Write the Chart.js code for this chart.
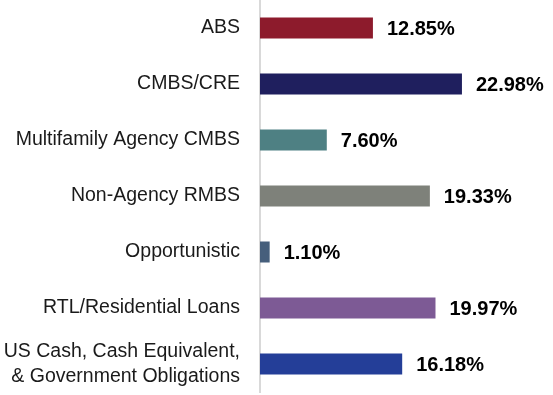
<!DOCTYPE html>
<html lang="en">
<head>
    <meta charset="UTF-8">
    <title>Allocation</title>
    <script src="https://cdn.jsdelivr.net/npm/chart.js"></script>
    <style>
        html, body { margin: 0; padding: 0; background: #ffffff; }
        #wrap { width: 553px; height: 395px; }
    </style>
</head>
<body>
    <div id="wrap"><canvas id="allocChart" width="553" height="395"></canvas></div>

    <script>
        const categories = [
            'ABS',
            'CMBS/CRE',
            'Multifamily Agency CMBS',
            'Non-Agency RMBS',
            'Opportunistic',
            'RTL/Residential Loans',
            ['US Cash, Cash Equivalent,', '& Government Obligations']
        ];
        const allocations = [12.85, 22.98, 7.60, 19.33, 1.10, 19.97, 16.18];
        const barColors = ['#8d1b2c', '#1f1f5e', '#4e8083', '#7e817a', '#465f7c', '#7d5a95', '#243e98'];

        // draws the bold % text just right of each bar
        const valueLabels = {
            id: 'valueLabels',
            afterDatasetsDraw(chart) {
                const ctx = chart.ctx;
                const meta = chart.getDatasetMeta(0);
                ctx.save();
                ctx.font = 'bold 20px "Liberation Sans", Arial, sans-serif';
                ctx.fillStyle = '#000000';
                ctx.textAlign = 'left';
                ctx.textBaseline = 'middle';
                meta.data.forEach((bar, i) => {
                    ctx.fillText(allocations[i].toFixed(2) + '%', bar.x + 14, bar.y + 1);
                });
                ctx.restore();
            }
        };

        new Chart(document.getElementById('allocChart'), {
            type: 'bar',
            data: {
                labels: categories,
                datasets: [{
                    data: allocations,
                    backgroundColor: barColors,
                    borderWidth: 0,
                    barPercentage: 0.75,
                    categoryPercentage: 0.5
                }]
            },
            options: {
                indexAxis: 'y',
                responsive: false,
                animation: false,
                layout: { padding: { top: 0, bottom: 3, left: 0, right: 3 } },
                plugins: {
                    legend: { display: false },
                    tooltip: { enabled: false }
                },
                scales: {
                    x: {
                        display: false,
                        min: 0,
                        max: 33
                    },
                    y: {
                        afterFit(scale) {
                            scale.width = 260;
                            scale.paddingTop = 0;
                            scale.paddingBottom = 0;
                        },
                        grid: { display: false, drawTicks: false },
                        border: { display: true, color: '#d9d9d9', width: 2 },
                        ticks: {
                            padding: 20,
                            color: '#1a1a1a',
                            font: { family: '"Liberation Sans", Arial, sans-serif', size: 19.5, lineHeight: 1.3 }
                        }
                    }
                }
            },
            plugins: [valueLabels]
        });
    </script>
</body>
</html>
